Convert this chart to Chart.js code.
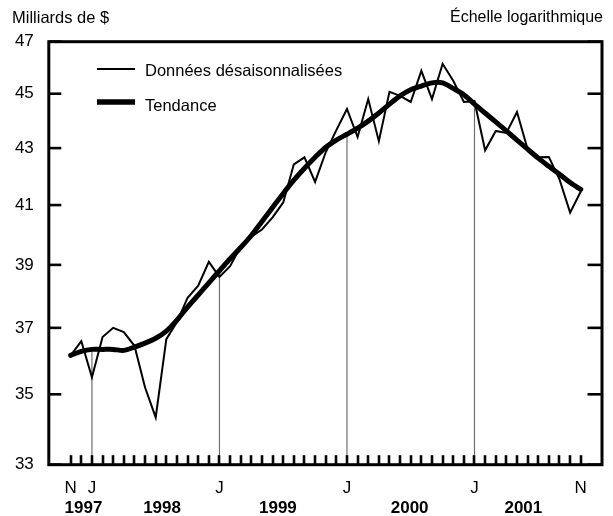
<!DOCTYPE html>
<html>
<head>
<meta charset="utf-8">
<script src="https://cdn.jsdelivr.net/npm/chart.js@4/dist/chart.umd.min.js"></script>
<style>
  html, body { margin: 0; padding: 0; background: #fff; }
  #wrap { width: 613px; height: 516px; }
</style>
</head>
<body>
<div id="wrap"><canvas id="c" width="613" height="516"></canvas></div>
<script>
// ---- Data (monthly, Nov 1997 .. Nov 2001), billions of $ ----
const startYear = 1997, startMonth = 10; // November (0-based)
const seasonallyAdjusted = [36.16, 36.59, 35.5, 36.72, 37.0, 36.87, 36.45, 35.2, 34.33, 36.65,
  37.18, 37.94, 38.33, 39.1, 38.61, 38.96, 39.6, 39.93, 40.17, 40.58,
  41.09, 42.42, 42.67, 41.8, 42.85, 43.65, 44.43, 43.4, 44.8, 43.25,
  45.07, 44.92, 44.69, 45.87, 44.8, 46.14, 45.49, 44.69, 44.72, 42.92,
  43.62, 43.55, 44.32, 42.96, 42.67, 42.68, 41.89, 40.74, 41.47];
const trend = [36.16, 36.28, 36.34, 36.34, 36.34, 36.31, 36.41, 36.53, 36.68, 36.90,
  37.24, 37.65, 38.03, 38.42, 38.81, 39.2, 39.57, 39.97, 40.44, 40.92,
  41.4, 41.86, 42.28, 42.67, 43.03, 43.29, 43.5, 43.72, 43.98, 44.28,
  44.61, 44.92, 45.15, 45.29, 45.41, 45.41, 45.2, 44.96, 44.61, 44.28,
  43.95, 43.62, 43.29, 42.96, 42.64, 42.35, 42.07, 41.78, 41.54];
const months = seasonallyAdjusted.map((_, i) => {
  const m = (startMonth + i) % 12, y = startYear + Math.floor((startMonth + i) / 12);
  return y + '-' + String(m + 1).padStart(2, '0');
});
const monthTickIdx = [0, 2, 14, 26, 38, 48];
const monthTickLabels = ['N', 'J', 'J', 'J', 'J', 'N'];
const yearLabels = ['1997', '1998', '1999', '2000', '2001'];
const yearLabelPos = [1.2, 8.6, 19.5, 31.9, 42.6];
const januaryIdx = [2, 14, 26, 38];
const yTickValues = [33, 35, 37, 39, 41, 43, 45, 47];
const seriesNames = ['Données désaisonnalisées', 'Tendance'];
const unitLabel = 'Milliards de $';
const scaleNote = 'Échelle logarithmique';

const FONT = "'Liberation Sans', Arial, Helvetica, sans-serif";

const dropLineSets = januaryIdx.map(j => ({
  label: 'drop' + j,
  data: [{x: j, y: trend[j]}, {x: j, y: 33}],
  borderColor: '#6e6e6e', borderWidth: 1.2, pointRadius: 0, fill: false
}));

const decor = {
  id: 'decor',
  afterDatasetsDraw(chart) {
    const {ctx, chartArea: a, scales} = chart;
    const xs = scales.x, ys = scales.y;
    ctx.save();
    ctx.strokeStyle = '#000';
    ctx.lineCap = 'butt';
    // month ticks (inward, bottom)
    ctx.lineWidth = 2.6;
    for (let i = 0; i < months.length; i++) {
      const px = Math.round(xs.getPixelForValue(i));
      ctx.beginPath(); ctx.moveTo(px, a.bottom); ctx.lineTo(px, a.bottom - 9.5); ctx.stroke();
    }
    // y ticks inward on both sides
    yTickValues.forEach(v => {
      const py = ys.getPixelForValue(v);
      ctx.beginPath(); ctx.moveTo(a.left, py); ctx.lineTo(a.left + 12.5, py); ctx.stroke();
      ctx.beginPath(); ctx.moveTo(a.right, py); ctx.lineTo(a.right - 14.5, py); ctx.stroke();
    });
    // frame
    ctx.lineWidth = 3;
    ctx.strokeRect(a.left, a.top, a.right - a.left, a.bottom - a.top);
    // legend
    ctx.lineWidth = 2;
    ctx.beginPath(); ctx.moveTo(97, 69); ctx.lineTo(135, 69); ctx.stroke();
    ctx.lineWidth = 5.5;
    ctx.beginPath(); ctx.moveTo(97, 102); ctx.lineTo(135, 102); ctx.stroke();
    ctx.fillStyle = '#000';
    ctx.textBaseline = 'middle';
    ctx.textAlign = 'left';
    ctx.font = '16.5px ' + FONT;
    ctx.fillText(seriesNames[0], 145, 71);
    ctx.fillText(seriesNames[1], 145, 106);
    // header texts
    ctx.font = '16.5px ' + FONT;
    ctx.fillText(unitLabel, 12, 18);
    ctx.font = '16px ' + FONT;
    ctx.textAlign = 'right';
    ctx.fillText(scaleNote, 603, 18);
    ctx.restore();
  }
};

new Chart(document.getElementById('c'), {
  type: 'line',
  data: {
    datasets: [
      {
        label: seriesNames[1],
        data: trend.map((v, i) => ({x: i, y: v})),
        borderColor: '#000', borderWidth: 5, pointRadius: 0, tension: 0.3,
        borderJoinStyle: 'round', borderCapStyle: 'round', fill: false
      },
      {
        label: seriesNames[0],
        data: seasonallyAdjusted.map((v, i) => ({x: i, y: v})),
        borderColor: '#000', borderWidth: 2, pointRadius: 0, tension: 0,
        borderJoinStyle: 'miter', fill: false
      },
      ...dropLineSets
    ]
  },
  options: {
    responsive: false,
    animation: false,
    events: [],
    layout: { padding: { top: 41.7, right: 11, bottom: 0, left: 0 } },
    plugins: { legend: { display: false }, tooltip: { enabled: false }, title: { display: false } },
    scales: {
      x: {
        type: 'linear', position: 'bottom', weight: 0,
        min: -2.06, max: 50,
        grid: { display: false, drawTicks: false },
        border: { display: false },
        afterBuildTicks: s => { s.ticks = monthTickIdx.map(v => ({value: v})); },
        afterFit: s => { s.height = 30; },
        ticks: {
          autoSkip: false, maxRotation: 0, padding: 13,
          color: '#000', font: { family: FONT, size: 17 },
          callback: (v) => { const k = monthTickIdx.indexOf(v); return k >= 0 ? monthTickLabels[k] : ''; }
        }
      },
      x2: {
        type: 'linear', position: 'bottom', weight: 1,
        min: -2.06, max: 50,
        grid: { display: false, drawTicks: false },
        border: { display: false },
        afterBuildTicks: s => { s.ticks = yearLabelPos.map(v => ({value: v})); },
        afterFit: s => { s.height = 21.3; },
        ticks: {
          autoSkip: false, maxRotation: 0, padding: 3,
          color: '#000', font: { family: FONT, size: 17, weight: 'bold' },
          callback: (v) => { const k = yearLabelPos.indexOf(v); return k >= 0 ? yearLabels[k] : ''; }
        }
      },
      y: {
        type: 'logarithmic', position: 'left',
        min: 33, max: 47,
        grid: { display: false, drawTicks: false },
        border: { display: false },
        afterBuildTicks: s => { s.ticks = yTickValues.map(v => ({value: v})); },
        afterFit: s => { s.width = 48.8; },
        ticks: {
          autoSkip: false, padding: 15,
          color: '#000', font: { family: FONT, size: 17 },
          callback: (v) => String(v)
        }
      }
    }
  },
  plugins: [decor]
});
</script>
</body>
</html>
